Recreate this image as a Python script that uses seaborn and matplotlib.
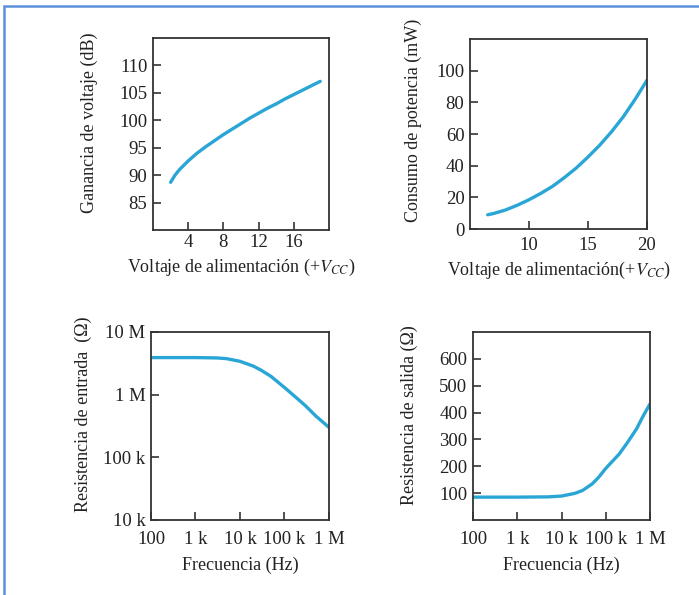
import numpy as np
import pandas as pd
import matplotlib
matplotlib.use('Agg')
import matplotlib.pyplot as plt
from matplotlib.patches import Rectangle
import seaborn as sns

# ganancia de voltaje vs Vcc
vcc_gain = [2, 2.5, 3, 4, 5, 6, 7, 8, 9, 10, 11, 12, 13, 14, 15, 16, 17, 18, 19]
gain_db = [88.7, 90.0, 91.0, 92.6, 94.0, 95.2, 96.3, 97.4, 98.4, 99.4, 100.4,
           101.3, 102.2, 103.0, 103.9, 104.7, 105.5, 106.3, 107.1]

# consumo de potencia vs Vcc
vcc_pow = [6.5, 7, 8, 9, 10, 11, 12, 13, 14, 15, 16, 17, 18, 19, 20]
pow_mw = [9, 9.8, 12, 15, 18.5, 22.5, 27, 32.5, 38.5, 45.5, 53, 61.5, 71, 82, 94]

# resistencia de entrada vs frecuencia
f_in = [100, 1e3, 3e3, 5e3, 1e4, 2e4, 3e4, 5e4, 1e5, 2e5, 3e5, 5e5, 1e6]
r_in = [3.9e6, 3.9e6, 3.85e6, 3.75e6, 3.4e6, 2.85e6, 2.45e6, 1.95e6, 1.3e6,
        8.5e5, 6.6e5, 4.6e5, 3.0e5]

# resistencia de salida vs frecuencia
f_out = [100, 1e3, 5e3, 1e4, 2e4, 3e4, 5e4, 7e4, 1e5, 2e5, 3e5, 5e5, 7e5, 1e6]
r_out = [85, 85, 86, 89, 99, 110, 135, 160, 192, 245, 285, 340, 387, 432]

freq_ticks = [100, 1e3, 1e4, 1e5, 1e6]
freq_labels = ['100', '1 k', '10 k', '100 k', '1 M']
rin_ticks = [1e4, 1e5, 1e6, 1e7]
rin_labels = ['10 k', '100 k', '1 M', '10 M']

sns.set_theme(style='ticks')
plt.rcParams['font.family'] = ['Liberation Serif', 'DejaVu Serif']
plt.rcParams['mathtext.fontset'] = 'stix'

line_col = '#2aa6d6'
fs_lab = 13
fs_tick = 13.5

fig = plt.figure(figsize=(6.99, 5.95), dpi=100)
ax1 = fig.add_axes([0.2189, 0.6134, 0.2518, 0.3227])
ax2 = fig.add_axes([0.6724, 0.6151, 0.2532, 0.3193])
ax3 = fig.add_axes([0.2160, 0.1261, 0.2546, 0.3160])
ax4 = fig.add_axes([0.6767, 0.1261, 0.2532, 0.3160])

sns.lineplot(x=vcc_gain, y=gain_db, ax=ax1, color=line_col, lw=2.4)
sns.lineplot(x=vcc_pow, y=pow_mw, ax=ax2, color=line_col, lw=2.4)
sns.lineplot(x=f_in, y=r_in, ax=ax3, color=line_col, lw=2.4)
sns.lineplot(x=f_out, y=r_out, ax=ax4, color=line_col, lw=2.4)

ax1.set_xlim(0, 20)
ax1.set_ylim(80, 115)
ax1.set_xticks([4, 8, 12, 16])
ax1.set_yticks([85, 90, 95, 100, 105, 110])
ax1.set_xlabel('Voltaje de alimentación (+$V_{CC}$)', fontsize=fs_lab)
ax1.set_ylabel('Ganancia de voltaje (dB)', fontsize=fs_lab)

ax2.set_xlim(5, 20)
ax2.set_ylim(0, 120)
ax2.set_xticks([10, 15, 20])
ax2.set_yticks([0, 20, 40, 60, 80, 100])
ax2.set_xlabel('Voltaje de alimentación(+$V_{CC}$)', fontsize=fs_lab)
ax2.set_ylabel('Consumo de potencia (mW)', fontsize=fs_lab)

ax3.set_xscale('log')
ax3.set_yscale('log')
ax3.set_xlim(100, 1e6)
ax3.set_ylim(1e4, 1e7)
ax3.set_xticks(freq_ticks)
ax3.set_xticklabels(freq_labels)
ax3.set_yticks(rin_ticks)
ax3.set_yticklabels(rin_labels)
ax3.minorticks_off()
ax3.set_xlabel('Frecuencia (Hz)', fontsize=fs_lab)
ax3.set_ylabel('Resistencia de entrada  (Ω)', fontsize=fs_lab)

ax4.set_xscale('log')
ax4.set_xlim(100, 1e6)
ax4.set_ylim(0, 700)
ax4.set_xticks(freq_ticks)
ax4.set_xticklabels(freq_labels)
ax4.set_yticks([100, 200, 300, 400, 500, 600])
ax4.minorticks_off()
ax4.set_xlabel('Frecuencia (Hz)', fontsize=fs_lab)
ax4.set_ylabel('Resistencia de salida (Ω)', fontsize=fs_lab)

for ax in (ax1, ax2, ax3, ax4):
    for s in ax.spines.values():
        s.set_visible(True)
        s.set_color('#333333')
        s.set_linewidth(1.3)
    ax.tick_params(direction='in', length=6, width=1.2, color='#333333',
                   labelsize=fs_tick, labelcolor='#222222', pad=4)
    ax.xaxis.label.set_color('#222222')
    ax.yaxis.label.set_color('#222222')
    ax.xaxis.labelpad = 4

# separacion de etiquetas del eje x por panel
ax1.tick_params(axis='x', pad=3)
ax2.tick_params(axis='x', pad=6)
ax3.tick_params(axis='x', pad=8)
ax4.tick_params(axis='x', pad=8)
ax3.xaxis.labelpad = 6
ax4.xaxis.labelpad = 6

# posicion de los titulos de eje y
ax1.yaxis.set_label_coords(-0.31, 0.56)
ax2.yaxis.set_label_coords(-0.27, 0.57)
ax3.yaxis.set_label_coords(-0.33, 0.56)
ax4.yaxis.set_label_coords(-0.31, 0.56)

# marco azul
fig.patches.append(Rectangle((4 / 699, -0.1), 1.2, 1.1 - 6 / 595,
                             transform=fig.transFigure, fill=False,
                             edgecolor='#5b91da', lw=1.8))

fig.savefig('out.png', dpi=100, facecolor='white')
